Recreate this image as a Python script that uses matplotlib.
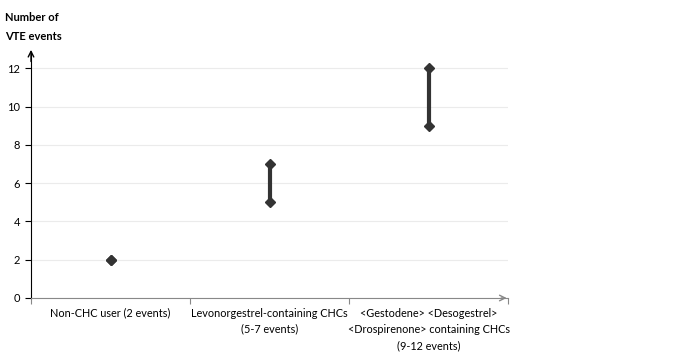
import matplotlib

matplotlib.use("Agg")
import matplotlib.pyplot as plt

categories = [
    "Non-CHC user (2 events)",
    "Levonorgestrel-containing CHCs\n(5-7 events)",
    "<Gestodene> <Desogestrel>\n<Drospirenone> containing CHCs\n(9-12 events)",
]
low = [2, 5, 9]
high = [2, 7, 12]
yticks = [0, 2, 4, 6, 8, 10, 12]

plt.rcParams["font.family"] = ["Lato", "DejaVu Sans"]

fig = plt.figure(figsize=(6.75, 3.55), dpi=100)
ax = fig.add_axes([31 / 675, 1 - 298 / 355, 477 / 675, 246 / 355])

x = list(range(len(categories)))
for xi, lo, hi in zip(x, low, high):
    if hi != lo:
        ax.plot([xi, xi], [lo, hi], color="#333333", lw=3, solid_capstyle="butt", zorder=2)
    ax.plot([xi, xi], [lo, hi], linestyle="none", marker="D", ms=5.5, color="#333333", zorder=3)

ax.set_xlim(-0.5, 2.5)
ax.set_ylim(0, 12.85)
ax.set_yticks(yticks)
ax.set_xticks([-0.5, 0.5, 1.5, 2.5])
ax.set_xticklabels([])
ax.tick_params(axis="x", length=4, color="#888888", direction="out")
ax.tick_params(axis="y", length=4, color="black", labelsize=8, pad=4)
ax.grid(True, axis="y", color="#ebebeb", lw=0.8)
ax.set_axisbelow(True)

for s in ("top", "right"):
    ax.spines[s].set_visible(False)
ax.spines["left"].set_color("black")
ax.spines["bottom"].set_color("#888888")

for xi, lbl in zip(x, categories):
    ax.text(xi, -0.5, lbl, ha="center", va="top", fontsize=7.8, linespacing=1.57,
            transform=ax.transData, clip_on=False)

# axis arrowheads
ax.annotate("", xy=(0, 1.02), xytext=(0, 0.95), xycoords="axes fraction",
            arrowprops=dict(arrowstyle="->", color="black", lw=1))
ax.annotate("", xy=(1.003, 0), xytext=(0.98, 0), xycoords="axes fraction",
            arrowprops=dict(arrowstyle="->", color="#888888", lw=1))

fig.text(5 / 675, 1 - 12 / 355, "Number of\nVTE events", ha="left", va="top",
         fontsize=8, fontweight="bold", linespacing=1.9)

fig.savefig("out.png", dpi=100)
